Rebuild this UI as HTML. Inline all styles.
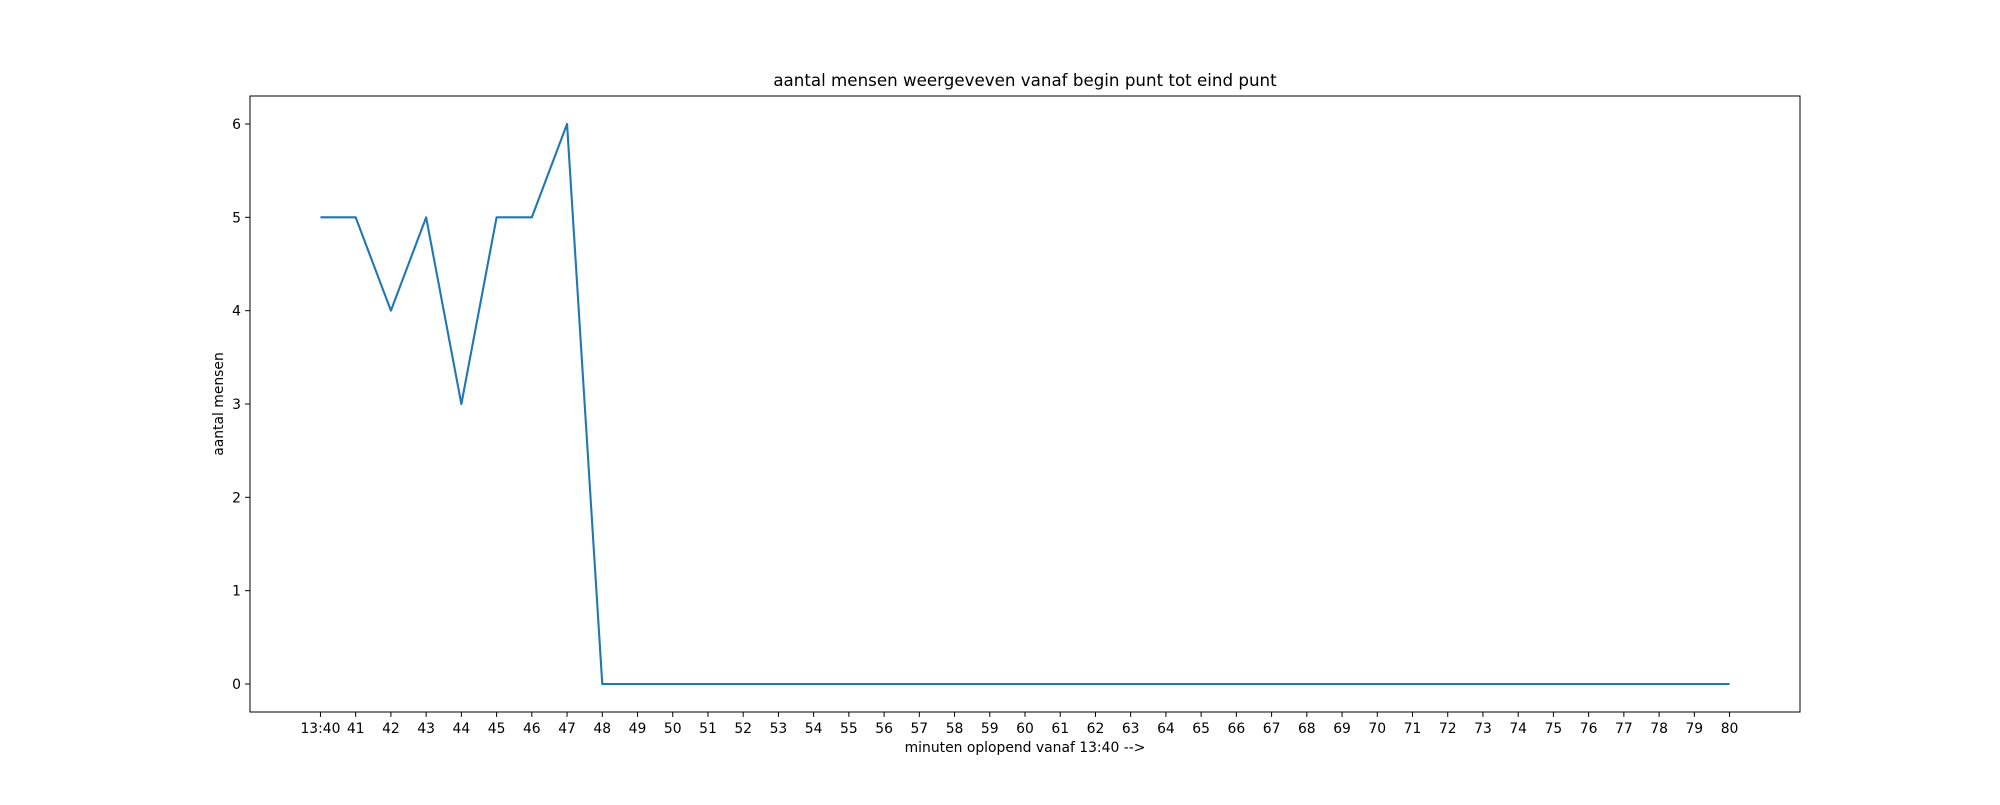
<!DOCTYPE html>
<html><head><meta charset="utf-8"><style>
body{margin:0;background:#fff;}
svg text{font-family:"DejaVu Sans","Liberation Sans",sans-serif;fill:#000;}
</style></head><body>
<svg id="chart" width="2000" height="800" xmlns="http://www.w3.org/2000/svg">
<rect width="2000" height="800" fill="#fff"/>
<g id="g"></g>
</svg>
<script>
const categories = ["13:40"];
for (let m = 41; m <= 80; m++) categories.push(String(m));
const values = [5,5,4,5,3,5,5,6,0,0,0,0,0,0,0,0,0,0,0,0,0,0,0,0,0,0,0,0,0,0,0,0,0,0,0,0,0,0,0,0,0];
const yTicks = [0,1,2,3,4,5,6];

const L=250,R=1800,T=96,B=712;
const xMin=-2,xMax=categories.length+1,yMin=-0.3,yMax=6.3;
const X=i=>L+(i-xMin)/(xMax-xMin)*(R-L);
const Y=v=>B-(v-yMin)/(yMax-yMin)*(B-T);
const g=document.getElementById('g');
const NS='http://www.w3.org/2000/svg';
function mk(tag,attrs,parent){const e=document.createElementNS(NS,tag);for(const k in attrs)e.setAttribute(k,attrs[k]);(parent||g).appendChild(e);return e;}

// x ticks
categories.forEach((c,i)=>{
  const t=mk('line',{x1:X(i),x2:X(i),y1:B,y2:B+4.9,stroke:'#000','stroke-width':1});
  
  
  const tx=mk('text',{x:X(i),y:B+21,'font-size':13.9,'text-anchor':'middle'});
  tx.textContent=c;
  
  
});
yTicks.forEach(v=>{
  const t=mk('line',{x1:L-4.9,x2:L,y1:Y(v),y2:Y(v),stroke:'#000','stroke-width':1});
  
  
  const tx=mk('text',{x:L-9,y:Y(v)+5,'font-size':13.9,'text-anchor':'end'});
  tx.textContent=v;
  
  
});
// line
const pts=values.map((v,i)=>X(i)+','+Y(v)).join(' ');
const pl=mk('polyline',{points:pts,fill:'none',stroke:'#1f77b4','stroke-width':2.1,'stroke-linejoin':'round'});


// frame
const fr=mk('rect',{x:L,y:T,width:R-L,height:B-T,fill:'none',stroke:'#000','stroke-width':1});


// titles
const ti=mk('text',{x:(L+R)/2,y:T-10,'font-size':16.7,'text-anchor':'middle'});
ti.textContent='aantal mensen weergeveven vanaf begin punt tot eind punt';


const xl=mk('text',{x:(L+R)/2,y:B+40,'font-size':13.9,'text-anchor':'middle'});
xl.textContent='minuten oplopend vanaf 13:40 -->';


const yl=mk('text',{x:0,y:0,'font-size':13.9,'text-anchor':'middle',transform:`translate(223,${(T+B)/2}) rotate(-90)`});
yl.textContent='aantal mensen';


</script>
</body></html>
